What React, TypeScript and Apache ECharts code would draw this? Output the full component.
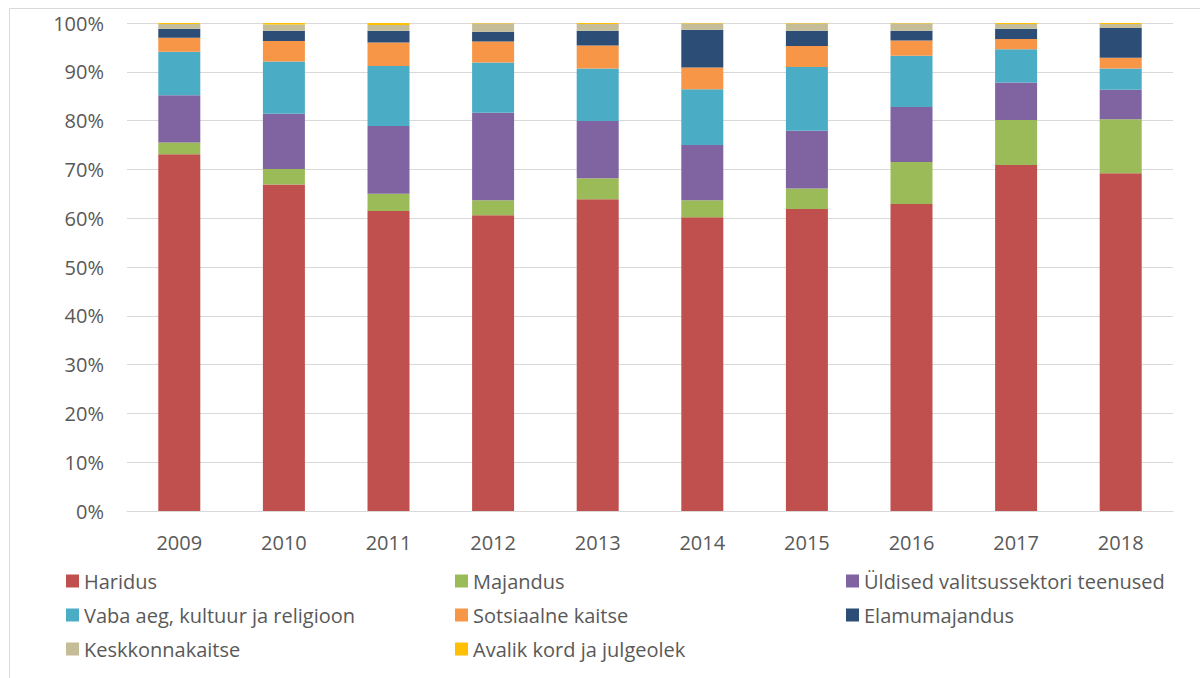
import React, { useEffect, useRef } from "react";
import * as echarts from "echarts";

const years = ["2009", "2010", "2011", "2012", "2013", "2014", "2015", "2016", "2017", "2018"];

const haridus = [73.1, 66.9, 61.5, 60.6, 63.9, 60.2, 61.9, 62.9, 70.9, 69.2];
const majandus = [2.4, 3.2, 3.5, 3.1, 4.3, 3.5, 4.2, 8.6, 9.2, 11.1];
const uldised = [9.7, 11.3, 13.9, 17.9, 11.7, 11.3, 11.8, 11.3, 7.7, 6.0];
const vabaAeg = [8.9, 10.7, 12.3, 10.3, 10.8, 11.4, 13.1, 10.5, 6.8, 4.4];
const sotsiaalne = [2.9, 4.2, 4.8, 4.3, 4.7, 4.5, 4.3, 3.1, 2.1, 2.2];
const elamu = [1.8, 2.1, 2.4, 2.0, 3.0, 7.7, 3.1, 2.0, 2.1, 6.1];
const keskkonna = [1.0, 1.3, 1.2, 1.7, 1.4, 1.3, 1.5, 1.5, 1.0, 0.8];
const avalik = [0.2, 0.3, 0.4, 0.1, 0.2, 0.1, 0.1, 0.1, 0.2, 0.2];

const seriesDefs = [
  { name: "Haridus", data: haridus, color: "#C0504D" },
  { name: "Majandus", data: majandus, color: "#9BBB59" },
  { name: "Üldised valitsussektori teenused", data: uldised, color: "#8064A2" },
  { name: "Vaba aeg, kultuur ja religioon", data: vabaAeg, color: "#4BACC6" },
  { name: "Sotsiaalne kaitse", data: sotsiaalne, color: "#F79646" },
  { name: "Elamumajandus", data: elamu, color: "#2C4D75" },
  { name: "Keskkonnakaitse", data: keskkonna, color: "#C4BD97" },
  { name: "Avalik kord ja julgeolek", data: avalik, color: "#FFC000" },
];

const legendColumns = [
  ["Haridus", "Vaba aeg, kultuur ja religioon", "Keskkonnakaitse"],
  ["Majandus", "Sotsiaalne kaitse", "Avalik kord ja julgeolek"],
  ["Üldised valitsussektori teenused", "Elamumajandus"],
];
const legendLefts = [61, 450, 841];

const FONT = "'Open Sans', 'Noto Sans', sans-serif";
const TEXT_COLOR = "#595959";

export default function App() {
  const ref = useRef<HTMLDivElement>(null);
  useEffect(() => {
    if (!ref.current) return;
    const chart = echarts.init(ref.current, undefined, { renderer: "svg" });
    chart.setOption({
      animation: false,
      backgroundColor: "#ffffff",
      textStyle: { fontFamily: FONT },
      grid: { left: 127, right: 27, top: 23, bottom: 167, containLabel: false },
      legend: legendColumns.map((col, i) => ({
        data: col,
        orient: "vertical",
        left: legendLefts[i],
        top: 566,
        itemWidth: 13,
        itemHeight: 13,
        itemGap: 14,
        icon: "rect",
        selectedMode: false,
        textStyle: {
          fontFamily: FONT,
          fontSize: 20,
          color: TEXT_COLOR,
          lineHeight: 20,
        },
      })),
      xAxis: {
        type: "category",
        data: years,
        axisLine: { lineStyle: { color: "#d9d9d9", width: 1 } },
        axisTick: { show: false },
        axisLabel: { color: TEXT_COLOR, fontSize: 20, fontFamily: FONT, margin: 21 },
      },
      yAxis: {
        type: "value",
        min: 0,
        max: 100,
        interval: 10,
        axisLine: { show: false },
        axisTick: { show: false },
        splitLine: { lineStyle: { color: "#d9d9d9", width: 1 } },
        axisLabel: {
          formatter: "{value}%",
          color: TEXT_COLOR,
          fontSize: 20,
          fontFamily: FONT,
          margin: 23,
        },
      },
      series: seriesDefs.map((s) => ({
        name: s.name,
        type: "bar",
        stack: "total",
        barWidth: 42,
        data: s.data,
        itemStyle: { color: s.color },
      })),
      graphic: [
        { type: "line", shape: { x1: 9.5, y1: 8.5, x2: 1200, y2: 8.5 }, style: { stroke: "#d9d9d9", lineWidth: 1 } },
        { type: "line", shape: { x1: 9.5, y1: 8.5, x2: 9.5, y2: 678 }, style: { stroke: "#d9d9d9", lineWidth: 1 } },
      ],
    });
    return () => chart.dispose();
  }, []);
  return (
    <div
      ref={ref}
      style={{ position: "fixed", left: 0, top: 0, width: 1200, height: 678 }}
    />
  );
}
